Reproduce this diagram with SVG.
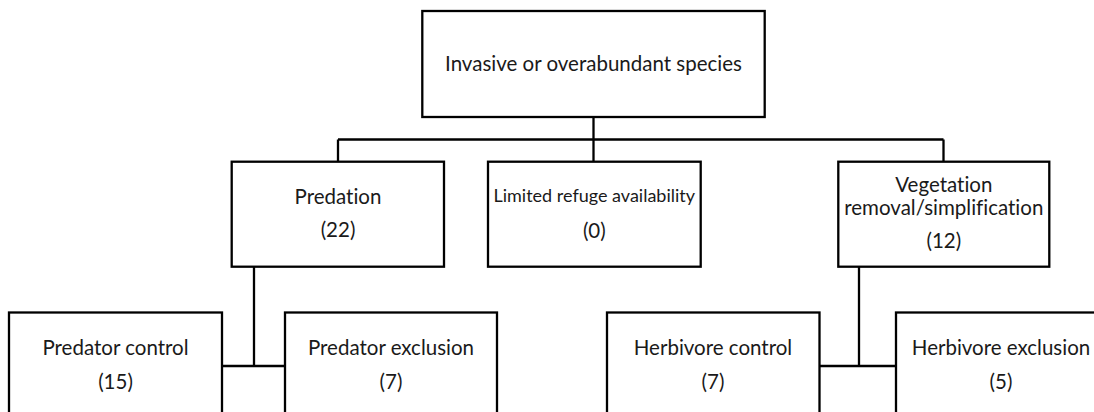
<svg xmlns="http://www.w3.org/2000/svg" width="1094" height="412" viewBox="0 0 1094 412">
  <style>
    .box { fill: #ffffff; stroke: #000000; stroke-width: 2.3; }
    .wire { fill: none; stroke: #000000; stroke-width: 2.3; }
    .label { font-family: Lato, "Liberation Sans", sans-serif; font-size: 20.5px; fill: #1a1a1a; text-anchor: middle; font-variant-ligatures: none; font-feature-settings: "liga" 0, "dlig" 0; }
    .small { font-size: 18px; }
  </style>
  <rect width="1094" height="412" fill="#ffffff"/>

  <!-- connectors -->
  <g id="connectors">
    <path class="wire" d="M593.5 117 V162"/>
    <path class="wire" d="M338 139.5 H943.5 M338 139.5 V162 M943.5 139.5 V162"/>
    <path class="wire" d="M254 267 V366 M222 366 H285"/>
    <path class="wire" d="M859 267 V366 M819.5 366 H896"/>
  </g>

  <!-- root -->
  <g id="invasive">
    <rect class="box" x="422.3" y="11" width="342.4" height="106"/>
    <text class="label" x="593.5" y="71">Invasive or overabundant species</text>
  </g>

  <!-- second level -->
  <g id="predation">
    <rect class="box" x="231.7" y="161.7" width="212.3" height="105"/>
    <text class="label" x="338" y="204">Predation</text>
    <text class="label" x="338" y="237">(22)</text>
  </g>
  <g id="refuge">
    <rect class="box" x="488" y="161.7" width="212.7" height="105"/>
    <text class="label small" x="594.3" y="202">Limited refuge availability</text>
    <text class="label" x="594.3" y="238">(0)</text>
  </g>
  <g id="vegetation">
    <rect class="box" x="838.3" y="161.7" width="211" height="105"/>
    <text class="label" x="943.8" y="192">Vegetation</text>
    <text class="label" x="943.8" y="215">removal/simplification</text>
    <text class="label" x="943.8" y="248">(12)</text>
  </g>

  <!-- third level (boxes run past the lower edge) -->
  <g id="predator-control">
    <rect class="box" x="9" y="312.5" width="213" height="130"/>
    <text class="label" x="115.5" y="355">Predator control</text>
    <text class="label" x="115.5" y="389">(15)</text>
  </g>
  <g id="predator-exclusion">
    <rect class="box" x="285" y="312.5" width="212" height="130"/>
    <text class="label" x="391" y="355">Predator exclusion</text>
    <text class="label" x="391" y="389">(7)</text>
  </g>
  <g id="herbivore-control">
    <rect class="box" x="607" y="312.5" width="212.5" height="130"/>
    <text class="label" x="713" y="355">Herbivore control</text>
    <text class="label" x="713" y="389">(7)</text>
  </g>
  <g id="herbivore-exclusion">
    <rect class="box" x="896" y="312.5" width="212" height="130"/>
    <text class="label" x="1001" y="355">Herbivore exclusion</text>
    <text class="label" x="1001" y="389">(5)</text>
  </g>
</svg>
